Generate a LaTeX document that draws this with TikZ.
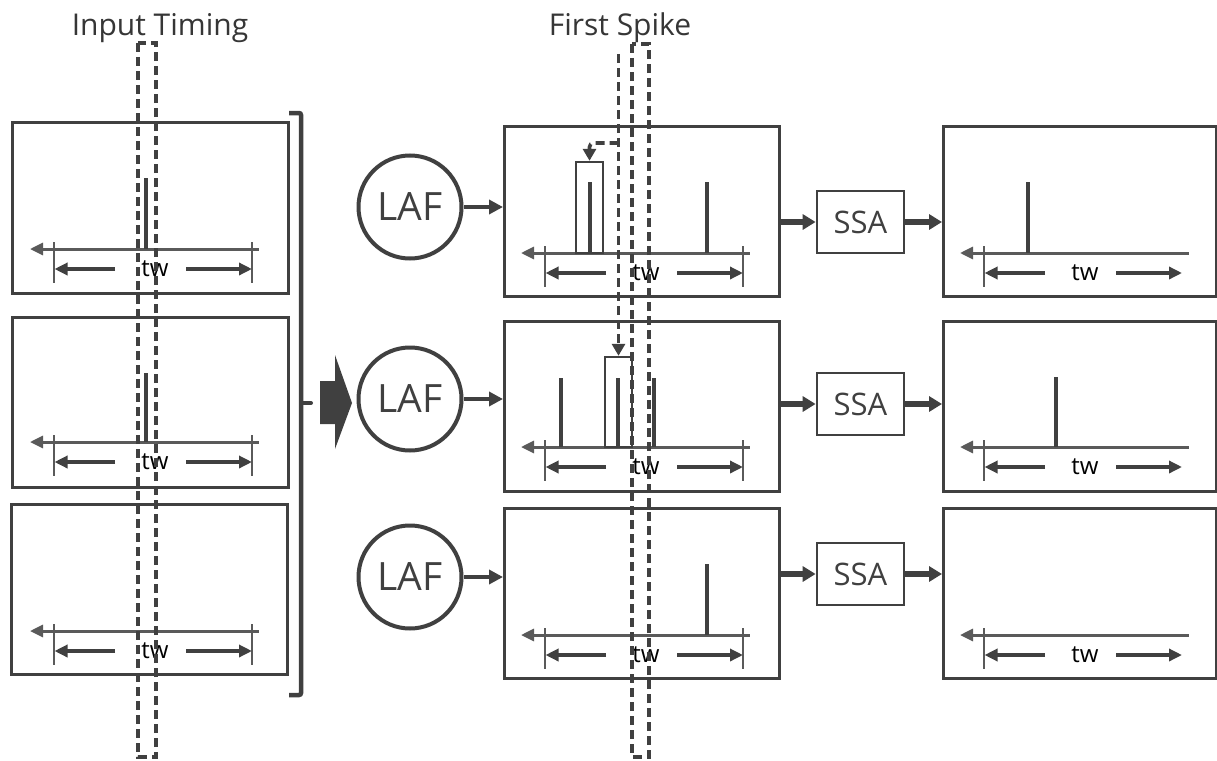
\documentclass[tikz,border=0pt]{standalone}
\usepackage{fontspec}
\setmainfont{Open Sans}
\usetikzlibrary{arrows.meta}
\definecolor{dg}{HTML}{404040}
\definecolor{ag}{HTML}{5A5A5A}
\tikzset{
  panel/.style={draw=dg, line width=2.5pt, fill=white, rectangle, inner sep=0pt, anchor=north west},
  axisline/.style={draw=ag, line width=3pt, {Triangle[length=13pt,width=12pt]}-},
  tickline/.style={draw=ag, line width=1.6pt},
  twarr/.style={draw=dg, line width=3.4pt, -{Triangle[length=13pt,width=12pt]}},
  twlabel/.style={font=\fontsize{24}{28}\selectfont, text=black, inner sep=0pt},
  spike/.style={draw=dg, line width=4.5pt},
  hbox/.style={draw=dg, line width=2.4pt, rectangle, inner sep=0pt},
  lafnode/.style={draw=dg, line width=4pt, circle, minimum size=103pt, inner sep=0pt, text=dg, font=\fontsize{39}{44}\selectfont},
  ssanode/.style={draw=dg, line width=2.8pt, rectangle, minimum width=87pt, minimum height=62pt, inner sep=0pt, text=dg, font=\fontsize{31}{36}\selectfont},
  larr/.style={draw=dg, line width=4pt, -{Triangle[length=14pt,width=14pt]}},
  sarr/.style={draw=dg, line width=5.5pt, -{Triangle[length=13pt,width=15pt]}},
  dashln/.style={draw=dg, line width=3.6pt, dash pattern=on 9pt off 5pt},
  dasharr/.style={draw=dg, line width=3.6pt, dash pattern=on 9pt off 5pt, -{Triangle[length=12pt,width=13pt]}},
  title/.style={font=\fontsize{30}{34}\selectfont, text=dg!85!black, inner sep=0pt},
}
% #1 name, #2 x offset, #3 axis y, #4 right tick (1/0)
\newcommand\timeline[4]{%
  \begin{scope}[shift={(#2,#3)}]
    \draw[axisline] (0,0) -- (229,0);
    \draw[tickline] (24,-7) -- (24,34);
    \ifnum#4=1 \draw[tickline] (222,-7) -- (222,34);\fi
    \draw[twarr] (85,20) -- (24.5,20);
    \draw[twarr] (156,20) -- (222,20);
    \node[twlabel] (#1) at (125,20) {tw};
  \end{scope}}
\newcommand\pnl[5]{\node[panel, minimum width=#4pt, minimum height=#5pt] (#1) at (#2,#3) {};}
\begin{document}
\begin{tikzpicture}[x=1pt,y=-1pt]
\useasboundingbox (0,0) rectangle (1217,760);
\fill[white] (0,0) rectangle (1217,760);

% titles
\node[title] (t1) at (160,28) {Input Timing};
\node[title] (t2) at (620,28) {First Spike};

% left panels
\pnl{L1}{11}{121}{276}{171}
\pnl{L2}{11}{316}{276}{170}
\pnl{L3}{10}{503}{276}{170}
\timeline{twL1}{30}{249}{1}
\timeline{twL2}{30}{442}{1}
\timeline{twL3}{30}{631}{1}
\draw[spike] (146,178) -- (146,249);
\draw[spike] (146,373) -- (146,442);

% bracket and block arrow
\draw[draw=dg, line width=4.5pt, rounded corners=2pt] (289,113) -- (301,113) -- (301,695) -- (289,695);
\draw[draw=dg, line width=4pt, line cap=round] (301,403) -- (311,403);
\fill[dg] (320,381) -- (335,381) -- (335,355) -- (352,403) -- (335,449) -- (335,424) -- (320,424) -- cycle;

% LAF nodes
\node[lafnode] (LAF1) at (410,207) {LAF};
\node[lafnode] (LAF2) at (410,399) {LAF};
\node[lafnode] (LAF3) at (410,577) {LAF};

% middle panels
\pnl{M1}{503}{125}{275}{170}
\pnl{M2}{503}{320}{275}{170}
\pnl{M3}{503}{507}{275}{170}
\timeline{twM1}{521}{253}{1}
\timeline{twM2}{521}{447}{1}
\timeline{twM3}{521}{635}{1}
\node[hbox, minimum width=27pt, minimum height=91pt] (HB1) at (589.5,207.5) {};
\node[hbox, minimum width=27pt, minimum height=90pt] (HB2) at (618.5,402) {};
\draw[spike] (590,182) -- (590,253);
\draw[spike] (707,182) -- (707,253);
\draw[spike] (561,378) -- (561,447);
\draw[spike] (618,378) -- (618,447);
\draw[spike] (654,378) -- (654,447);
\draw[spike] (707,564) -- (707,635);

\draw[larr] (LAF1.east) -- (LAF1.east -| M1.west);
\draw[larr] (LAF2.east) -- (LAF2.east -| M2.west);
\draw[larr] (LAF3.east) -- (LAF3.east -| M3.west);

% SSA
\node[ssanode] (SSA1) at (860.5,222) {SSA};
\node[ssanode] (SSA2) at (860.5,404) {SSA};
\node[ssanode] (SSA3) at (860.5,574) {SSA};

% right panels
\pnl{R1}{942}{125}{273}{170}
\pnl{R2}{942}{320}{273}{170}
\pnl{R3}{942}{507}{273}{170}
\timeline{twR1}{960}{253}{0}
\timeline{twR2}{960}{447}{0}
\timeline{twR3}{960}{635}{0}
\draw[spike] (1028,182) -- (1028,253);
\draw[spike] (1056,377) -- (1056,447);

\draw[sarr] (SSA1.west -| M1.east) -- (SSA1.west);
\draw[sarr] (SSA2.west -| M2.east) -- (SSA2.west);
\draw[sarr] (SSA3.west -| M3.east) -- (SSA3.west);
\draw[sarr] (SSA1.east) -- (SSA1.east -| R1.west);
\draw[sarr] (SSA2.east) -- (SSA2.east -| R2.west);
\draw[sarr] (SSA3.east) -- (SSA3.east -| R3.west);

% dashed windows
\draw[dashln] (138,43) rectangle (156,757);
\draw[dashln] (632,44) rectangle (649,757);
\coordinate (fsTop) at (618.5,54);
\coordinate (fsBr) at (618.5,143);
\draw[dasharr] (fsTop) -- (HB2.north);
\draw[dasharr, rounded corners=4pt] (fsBr) -| (HB1.north);
\end{tikzpicture}
\end{document}
